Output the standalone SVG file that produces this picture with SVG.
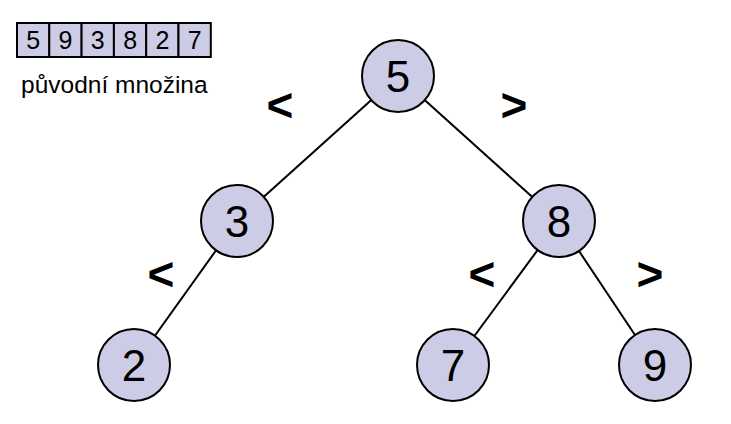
<svg xmlns="http://www.w3.org/2000/svg" width="731" height="424" viewBox="0 0 731 424">
<style>
.node{fill:#ccccE6;stroke:#000;stroke-width:2}
.num{font-family:"Liberation Sans",Arial,sans-serif;font-size:44px;text-anchor:middle;fill:#000}
.cell{fill:#ccccE6;stroke:#000;stroke-width:2}
.cnum{font-family:"Liberation Sans",Arial,sans-serif;font-size:25px;text-anchor:middle;fill:#000}
.lbl{font-family:"Liberation Sans",Arial,sans-serif;font-size:24.5px;fill:#000}
.cmp{font-family:"Liberation Sans",Arial,sans-serif;font-size:46px;font-weight:bold;text-anchor:middle;fill:#000}
.edge{stroke:#000;stroke-width:2;fill:none}
</style>
<rect width="731" height="424" fill="#fff"/>
<g id="array">
<rect class="cell" x="17" y="23" width="32.3" height="34"/>
<rect class="cell" x="49.3" y="23" width="32.3" height="34"/>
<rect class="cell" x="81.6" y="23" width="32.3" height="34"/>
<rect class="cell" x="113.9" y="23" width="32.3" height="34"/>
<rect class="cell" x="146.2" y="23" width="32.3" height="34"/>
<rect class="cell" x="178.5" y="23" width="32.3" height="34"/>
<text class="cnum" x="33.2" y="49">5</text>
<text class="cnum" x="65.5" y="49">9</text>
<text class="cnum" x="97.8" y="49">3</text>
<text class="cnum" x="130.1" y="49">8</text>
<text class="cnum" x="162.4" y="49">2</text>
<text class="cnum" x="194.7" y="49">7</text>
</g>
<text class="lbl" x="21" y="93">původní množina</text>
<g id="edges">
<line class="edge" x1="398" y1="76" x2="237" y2="221"/>
<line class="edge" x1="398" y1="76" x2="559" y2="221"/>
<line class="edge" x1="237" y1="221" x2="134" y2="365"/>
<line class="edge" x1="559" y1="221" x2="453" y2="365"/>
<line class="edge" x1="559" y1="221" x2="655" y2="365"/>
</g>
<g id="n5"><circle class="node" cx="398" cy="76" r="36"/><text class="num" x="398" y="92">5</text></g>
<g id="n3"><circle class="node" cx="237" cy="221" r="36"/><text class="num" x="237" y="237">3</text></g>
<g id="n8"><circle class="node" cx="559" cy="221" r="36"/><text class="num" x="559" y="237">8</text></g>
<g id="n2"><circle class="node" cx="134" cy="365" r="36"/><text class="num" x="134" y="381">2</text></g>
<g id="n7"><circle class="node" cx="453" cy="365" r="36"/><text class="num" x="453" y="381">7</text></g>
<g id="n9"><circle class="node" cx="655" cy="365" r="36"/><text class="num" x="655" y="381">9</text></g>
<text class="cmp" x="280" y="121">&lt;</text>
<text class="cmp" x="514" y="121">&gt;</text>
<text class="cmp" x="161" y="290">&lt;</text>
<text class="cmp" x="482" y="290">&lt;</text>
<text class="cmp" x="650" y="290">&gt;</text>
</svg>
